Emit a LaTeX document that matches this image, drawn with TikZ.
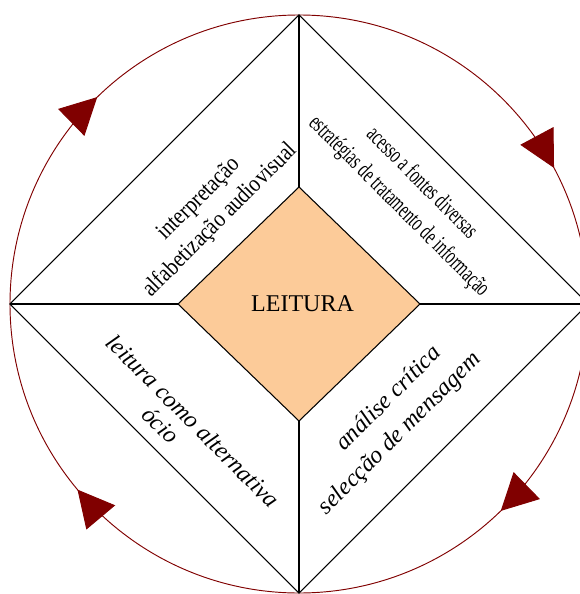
\documentclass[tikz,border=0pt]{standalone}
\usepackage{fontspec}
\setmainfont{Liberation Serif}
\usetikzlibrary{shapes.geometric,arrows.meta,decorations.markings}
\definecolor{peach}{RGB}{252,203,153}
\definecolor{ringred}{RGB}{128,0,0}

\begin{document}
\begin{tikzpicture}[x=0.03cm,y=-0.03cm,
	rhomb/.style={diamond,draw,line width=0.9pt,inner sep=0pt,outer sep=0pt,aspect=1},
	upright/.style={align=center,inner sep=0pt,font=\fontsize{20.5}{#1}\selectfont},
	slanted/.style={align=center,inner sep=0pt,font=\fontsize{20.5}{#1}\selectfont\itshape}]
	\useasboundingbox (0,0) rectangle (579,594);
	
	% circle with the four arrowheads
	\draw[ringred,line width=0.8pt,postaction={decorate},decoration={markings,
		mark=at position 0.127 with {\arrow{Triangle[length=31pt,width=32pt]}},
		mark=at position 0.389 with {\arrow{Triangle[length=31pt,width=32pt]}},
		mark=at position 0.627 with {\arrow{Triangle[length=31pt,width=32pt]}},
		mark=at position 0.922 with {\arrow{Triangle[length=31pt,width=32pt]}}}]
		(299,304) circle (289);
	
	\node[rhomb,minimum width=17.34cm,minimum height=17.34cm] (outer) at (299,304) {};
	\node[rhomb,fill=peach,minimum width=7.26cm,minimum height=7.02cm,font=\fontsize{20.5}{24}\selectfont] (leitura) at (299,304) {\raisebox{-2pt}{\hspace*{6pt}LEITURA}};
	\foreach \a in {north,east,south,west}
		\draw[line width=0.9pt] (leitura.\a) -- (outer.\a);
	
	\node[upright=25.6pt,rotate=45,xscale=0.85] (interp) at (210,210) {interpretação\\alfabetização audiovisual};
	\node[upright=27.7pt,rotate=-45,xscale=0.64] (acesso) at (410,195) {acesso a fontes diversas\\estratégias de tratamento de informação};
	\node[slanted=22pt,rotate=-45] (ocio) at (184,430) {leitura como alternativa\\ócio\hspace*{34pt}};
	\node[slanted=27.7pt,rotate=45] (analise) at (388.5,422.5) {\hspace*{29pt}análise crítica\\selecção de mensagem};
\end{tikzpicture}
\end{document}
